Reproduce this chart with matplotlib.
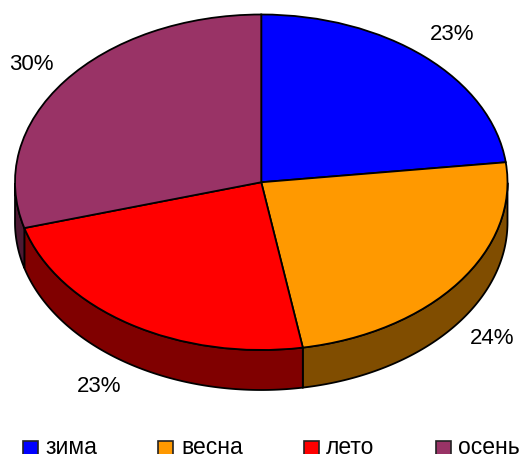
import numpy as np
import matplotlib
matplotlib.use("Agg")
import matplotlib.pyplot as plt
from matplotlib.patches import Rectangle, Polygon

seasons = ["зима", "весна", "лето", "осень"]
shares = [23.1, 24.2, 23.3, 29.4]
pct_labels = ["23%", "24%", "23%", "30%"]
top_colors = ["#0000FF", "#FF9900", "#FF0000", "#993366"]
side_colors = ["#000080", "#804D00", "#800000", "#4D1933"]

W, H = 526, 454
plt.rcParams["font.family"] = ["Liberation Sans", "DejaVu Sans"]
fig = plt.figure(figsize=(W / 100, H / 100), dpi=100)

# axes whose [-1,1] range maps on to the ellipse of the pie top
L, R, T, B = 15.0, 507.5, 14.5, 350.0
ax = fig.add_axes([L / W, 1 - B / H, (R - L) / W, (B - T) / H])
ax.axis("off")

wedges, _ = ax.pie(shares, colors=top_colors, startangle=90, counterclock=False,
                   radius=1.0, center=(0, 0),
                   wedgeprops=dict(edgecolor="black", linewidth=1.3, zorder=5))
ax.set_aspect("auto")
ax.set_xlim(-1, 1)
ax.set_ylim(-1, 1)
for w in wedges:
    w.set_clip_on(False)

depth = 40.0 / ((B - T) / 2)
for w, col in zip(wedges, side_colors):
    a0, a1 = sorted((w.theta1, w.theta2))
    th = np.radians(np.linspace(a0, a1, 200))
    # visible outer wall: lower half of the ellipse
    vis = np.sin(th) <= 0
    if vis.sum() < 2:
        continue
    x = np.cos(th[vis])
    y = np.sin(th[vis])
    pts = np.r_[np.c_[x, y], np.c_[x[::-1], y[::-1] - depth]]
    ax.add_patch(Polygon(pts, closed=True, facecolor=col, edgecolor="black",
                         linewidth=1.3, zorder=2, clip_on=False))

# percentage labels, placed outside the rim
label_pos = [(452, 34), (492, 338), (99.5, 387), (31, 65)]
for (px, py), s in zip(label_pos, pct_labels):
    fig.text(px / W, 1 - py / H, s, fontsize=16, color="black",
             ha="center", va="center")

# legend row, running off the bottom edge as in the source picture
swatch_x = [22.5, 157.5, 303.5, 436]
text_x = [45, 181, 326, 458]
for sx, tx, c, s in zip(swatch_x, text_x, top_colors, seasons):
    fig.add_artist(Rectangle((sx / W, 1 - 454.5 / H), 15 / W, 13.5 / H, transform=fig.transFigure,
                             facecolor=c, edgecolor="#222222", linewidth=1.2))
    fig.text(tx / W, 1 - 453.5 / H, s, fontsize=16.5, color="black", ha="left", va="baseline")

fig.savefig("out.png", dpi=100)
